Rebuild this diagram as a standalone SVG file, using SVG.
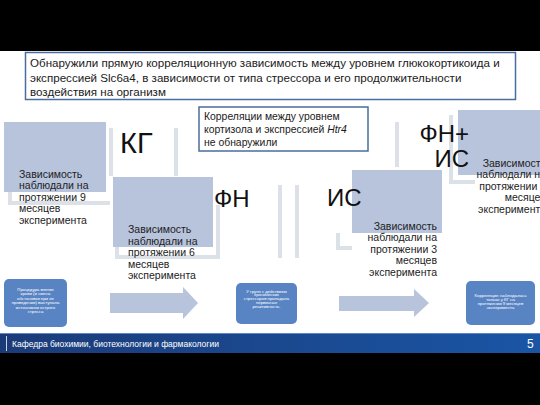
<svg xmlns="http://www.w3.org/2000/svg" width="540" height="405" viewBox="0 0 540 405">
<defs>
<linearGradient id="foot" x1="0" y1="0" x2="1" y2="0">
<stop offset="0" stop-color="#1B3B78"/>
<stop offset="1" stop-color="#1A55A5"/>
</linearGradient>
<style>
text{font-family:"Liberation Sans",Arial,sans-serif;}
.note{fill:#fff;stroke:#4A6C9E;stroke-width:1.5;}
.nt{font-size:11.6px;fill:#1a1a1a;}
.nt2{font-size:10.4px;fill:#1a1a1a;}
.blk{fill:#B8C4DC;}
.brk{fill:none;stroke:#DCE0E7;stroke-width:4;}
.lab{fill:#111;}
.desc{font-size:10.5px;fill:#222;}
.rb{fill:#5884C3;}
.st{font-size:4.3px;fill:#fff;text-anchor:middle;}
.arr{fill:#B8C4DC;}
</style>
</defs>
<rect x="0" y="0" width="540" height="405" fill="#fff"/>
<rect x="0" y="0" width="540" height="51" fill="#000"/>

<g id="brackets">
<path class="brk" d="M10,192 V203 H110"/>
<path class="brk" d="M111,128 V176"/>
<path class="brk" d="M176,128 V176"/>
<path class="brk" d="M117,247 V257 H218 V205"/>
<path class="brk" d="M280,185 V258"/>
<path class="brk" d="M297,185 V258"/>
<path class="brk" d="M338,233 V248 H352"/>
<path class="brk" d="M397,122 V167"/>
<path class="brk" d="M451,115 V182 H475"/>
</g>

<g id="finding">
<rect class="note" x="25.5" y="52.5" width="490" height="47"/>
<text class="nt" x="30" y="67">Обнаружили прямую корреляционную зависимость между уровнем глюкокортикоида и</text>
<text class="nt" x="30" y="82">экспрессией Slc6a4, в зависимости от типа стрессора и его продолжительности</text>
<text class="nt" x="30" y="96">воздействия на организм</text>
</g>

<g id="nocorr">
<rect class="note" x="199" y="107" width="169" height="44"/>
<text class="nt2" x="204" y="120">Корреляции между уровнем</text>
<text class="nt2" x="204" y="133">кортизола и экспрессией <tspan font-style="italic">Htr4</tspan></text>
<text class="nt2" x="204" y="146">не обнаружили</text>
</g>

<g id="kg">
<rect class="blk" x="4" y="122" width="102" height="70"/>
<text class="lab" x="120" y="153" font-size="29">КГ</text>
<text class="desc" x="19"><tspan x="19" y="177.5">Зависимость</tspan><tspan x="19" y="189">наблюдали на</tspan><tspan x="19" y="200.5">протяжении 9</tspan><tspan x="19" y="212">месяцев</tspan><tspan x="19" y="223.5">эксперимента</tspan></text>
</g>

<g id="fn">
<rect class="blk" x="113" y="177" width="100" height="70"/>
<text class="lab" x="214" y="207" font-size="24">ФН</text>
<text class="desc" x="128"><tspan x="128" y="233">Зависимость</tspan><tspan x="128" y="244.5">наблюдали на</tspan><tspan x="128" y="256">протяжении 6</tspan><tspan x="128" y="267.5">месяцев</tspan><tspan x="128" y="279">эксперимента</tspan></text>
</g>

<g id="is">
<rect class="blk" x="352" y="170" width="90" height="63"/>
<text class="lab" x="327" y="206" font-size="24">ИС</text>
<text class="desc" text-anchor="end"><tspan x="437" y="229.5">Зависимость</tspan><tspan x="437" y="241">наблюдали на</tspan><tspan x="437" y="252.5">протяжении 3</tspan><tspan x="437" y="264">месяцев</tspan><tspan x="437" y="275.5">эксперимента</tspan></text>
</g>

<g id="fnis">
<rect class="blk" x="458" y="110" width="90" height="65"/>
<text class="lab" font-size="24" text-anchor="end"><tspan x="469" y="142">ФН+</tspan><tspan x="469" y="167">ИС</tspan></text>
<text class="desc" text-anchor="end"><tspan x="546" y="166.5">Зависимость</tspan><tspan x="546" y="178">наблюдали на</tspan><tspan x="546" y="189.5">протяжении 9</tspan><tspan x="546" y="201">месяцев</tspan><tspan x="546" y="212.5">эксперимента</tspan></text>
</g>

<g id="connectors">
<polygon class="arr" points="110,293 183,293 183,287 198,303 183,319 183,313 110,313"/>
<polygon class="arr" points="339,296 414,296 414,289 429,303 414,317 414,311 339,311"/>
</g>

<g id="acute">
<rect class="rb" x="4" y="279" width="63" height="48" rx="5"/>
<text class="st"><tspan x="35.5" y="290.5">Процедура взятия</tspan><tspan x="35.5" y="295">крови (и смена</tspan><tspan x="35.5" y="299.5">обстановки при ее</tspan><tspan x="35.5" y="304">проведении) выступала</tspan><tspan x="35.5" y="308.5">источником острого</tspan><tspan x="35.5" y="313">стресса</tspan></text>
</g>

<g id="chronic">
<rect class="rb" x="236" y="283" width="61" height="41" rx="5"/>
<text class="st"><tspan x="266.5" y="292.5">У групп с действием</tspan><tspan x="266.5" y="296.3">хронических</tspan><tspan x="266.5" y="300.1">стрессоров пропадала</tspan><tspan x="266.5" y="303.9">первичная</tspan><tspan x="266.5" y="307.7">реактивность.</tspan></text>
</g>

<g id="result">
<rect class="rb" x="466" y="281" width="69" height="44" rx="5"/>
<text class="st"><tspan x="500.5" y="296.5">Корреляция наблюдалась</tspan><tspan x="500.5" y="300.7">только у КГ на</tspan><tspan x="500.5" y="304.9">протяжении 9 месяцев</tspan><tspan x="500.5" y="309.1">эксперимента</tspan></text>
</g>

<g id="footer">
<rect x="0" y="333" width="540" height="20" fill="url(#foot)"/>
<rect x="0" y="333" width="540" height="1" fill="#5C86C8"/>
<rect x="6" y="336" width="1" height="15" fill="#C9D3E6"/>
<text x="12" y="347" font-size="8.5" fill="#fff">Кафедра биохимии, биотехнологии и фармакологии</text>
<text x="527" y="348" font-size="12" fill="#fff">5</text>
</g>
<rect x="0" y="353" width="540" height="52" fill="#000"/>
</svg>
